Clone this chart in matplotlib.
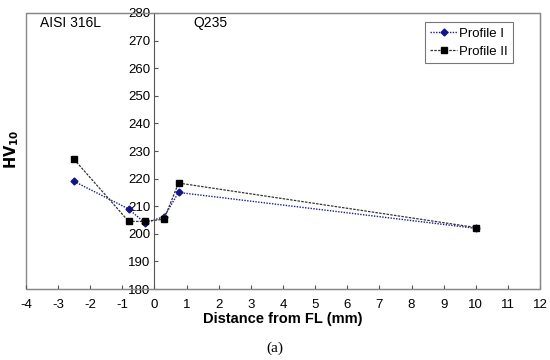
import matplotlib.pyplot as plt
from matplotlib.patches import Rectangle

plt.rcParams['font.family'] = ['Liberation Sans', 'DejaVu Sans']
plt.rcParams['axes.unicode_minus'] = False

# distance from fusion line (mm) and hardness readings
dist = [-2.5, -0.8, -0.3, 0.3, 0.75, 10]
profile_1 = [219, 209, 204, 206.2, 215, 202]
profile_2 = [227, 204.5, 204.5, 205.3, 218.4, 202.3]

xticks = list(range(-4, 13))
yticks = list(range(180, 281, 10))

fig = plt.figure(figsize=(5.5, 3.6), dpi=100)
ax = fig.add_axes([0.047, 0.197, 0.935, 0.767])

ax.plot(dist, profile_1, linestyle=(0, (1, 1)), color='#1a1a8c', lw=1.0,
        marker='D', ms=3.5, mfc='#14148a', mec='#14148a', label='Profile I')
ax.plot(dist, profile_2, linestyle=(0, (2, 1)), color='#333333', lw=0.9,
        marker='s', ms=5, mfc='black', mec='black', label='Profile II')

ax.set_xlim(-4, 12)
ax.set_ylim(180, 280)
ax.set_xticks(xticks)
ax.set_yticks(yticks)

# y axis sits on the fusion line
ax.spines['left'].set_position(('data', 0))
ax.spines['left'].set_color('#555555')
for s in ['top', 'right', 'bottom']:
    ax.spines[s].set_color('#888888')
ax.add_patch(Rectangle((0, 0), 1, 1, transform=ax.transAxes, fill=False,
                       ec='#888888', lw=1.0, clip_on=False))

ax.tick_params(axis='both', direction='in', length=3, labelsize=9.5,
               color='#555555')
ax.tick_params(axis='x', pad=7)
ax.tick_params(axis='y', pad=3)

ax.set_xlabel('Distance from FL (mm)', fontsize=10.5, fontweight='bold', labelpad=1)
fig.text(0.022, 0.585, r'$\mathbf{HV_{10}}$', rotation=90, fontsize=10.5,
         ha='center', va='center')

ax.text(-3.55, 276.5, 'AISI 316L', fontsize=10, va='center', ha='left')
ax.text(1.2, 276.5, 'Q235', fontsize=10, va='center', ha='left')

leg = ax.legend(loc='upper right', bbox_to_anchor=(0.961, 0.99), fontsize=9.5,
                frameon=True, fancybox=False, edgecolor='#555555',
                handlelength=2.0, handletextpad=0.2, borderpad=0.4,
                labelspacing=0.45)
leg.get_frame().set_linewidth(0.8)

fig.text(0.5, 0.033, '(a)', fontsize=11, ha='center', va='center',
         family=['Liberation Serif', 'DejaVu Serif'])

fig.savefig('out.png', dpi=100)
